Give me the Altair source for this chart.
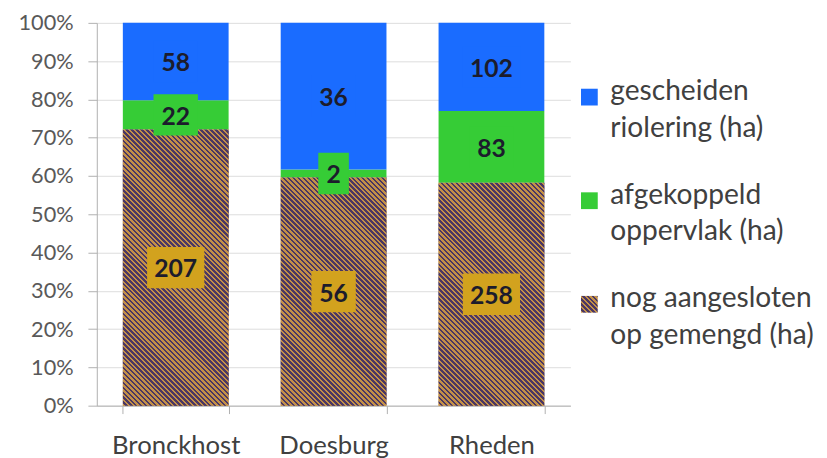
import altair as alt
import pandas as pd

# ---------------- data ----------------
cities = ["Bronckhost", "Doesburg", "Rheden"]
series_names = [
    "gescheiden|riolering (ha)",
    "afgekoppeld|oppervlak (ha)",
    "nog aangesloten|op gemengd (ha)",
]
gescheiden = [58, 36, 102]
afgekoppeld = [22, 2, 83]
gemengd = [207, 56, 258]
y_tick_values = [0.0, 0.1, 0.2, 0.3, 0.4, 0.5, 0.6, 0.7, 0.8, 0.9, 1.0]

# ---------------- styles ----------------
BLUE = "#1a6cff"
GREEN = "#36cc36"
TAN = "#c39048"
DARK = "#4b3762"
GOLD = "#d2a21e"
FONT = "Lato"
LABEL_DY = 3

PLOT_W, PLOT_H = 480, 388
PAD_IN, PAD_OUT = 0.33, 0.165
BAR_W = PLOT_W / len(cities) * (1 - PAD_IN)
BOX_W = {1: 31, 2: 45, 3: 58}
BOX_H = 42


def hatch_stops(span, period=5.0, frac=0.5):
    n = int(span / period) + 1
    stops = []
    for i in range(n):
        t0 = min(i * period / span, 1)
        t1 = min((i + frac) * period / span, 1)
        t2 = min((i + 1) * period / span, 1)
        stops += [(t0, TAN), (t1, TAN), (t1, DARK), (t2, DARK)]
    return stops


def hatch(w, h):
    """diagonal '\\' stripes as a hard-stop linear gradient (bounding-box units)"""
    k = (w + h) / (w * w + h * h)
    a, b = k * w, k * h
    stops = [{"offset": t, "color": c} for t, c in hatch_stops(w + h)]
    return {"gradient": "linear", "x1": 0, "y1": 1, "x2": a, "y2": 1 - b, "stops": stops}


def hatch_expr(w, h):
    k = (w + h) / (w * w + h * h)
    a, b = k * w, k * h
    stops = ", ".join(
        f"{{offset: {t:.4f}, color: '{c}'}}" for t, c in hatch_stops(w + h)
    )
    return (
        f"{{gradient: 'linear', x1: 0, y1: 1, x2: {a:.4f}, y2: {1 - b:.4f}, "
        f"stops: [{stops}]}}"
    )


rows = []
for i, city in enumerate(cities):
    stack = [
        (series_names[2], gemengd[i], GOLD),
        (series_names[1], afgekoppeld[i], GREEN),
        (series_names[0], gescheiden[i], BLUE),
    ]
    total = sum(v for _, v, _ in stack)
    cum = 0
    for name, v, box in stack:
        d = len(str(v))
        rows.append(
            {
                "city": city,
                "series": name,
                "value": v,
                "label": str(v),
                "start": cum / total,
                "end": (cum + v) / total,
                "mid": (cum + v / 2) / total,
                "boxcolor": box,
                "digits": str(d),
                "boxsize": BOX_W[d] ** 2,
            }
        )
        cum += v
df = pd.DataFrame(rows)

x_axis = alt.Axis(
    title=None,
    labelAngle=0,
    tickBand="extent",
    tickSize=8,
    labelPadding=19 - LABEL_DY,
    labelFontSize=26,
    labelFont=FONT,
    labelColor="#404040",
    domainColor="#b0b0b0",
    tickColor="#b0b0b0",
)
x_scale = alt.Scale(paddingInner=PAD_IN, paddingOuter=PAD_OUT)
y_axis = alt.Axis(
    title=None,
    format=".0%",
    values=y_tick_values,
    tickCount=11,
    labelOverlap=False,
    grid=True,
    gridColor="#dcdcdc",
    domainColor="#b0b0b0",
    tickColor="#b0b0b0",
    tickSize=9,
    labelPadding=15,
    labelOffset=-LABEL_DY,
    labelFontSize=22,
    labelFont=FONT,
    labelColor="#595959",
)
y_scale = alt.Scale(domain=[0, 1], nice=False)


def X():
    return alt.X("city:N", sort=cities, scale=x_scale, axis=x_axis)


def Y(field):
    return alt.Y(field, type="quantitative", scale=y_scale, axis=y_axis)


legend = alt.Legend(
    title=None,
    orient="none",
    legendX=485,
    legendY=61,
    symbolType="square",
    symbolSize=289,
    symbolStrokeWidth=0,
    labelFont=FONT,
    labelFontSize=28.5,
    labelColor="#404040",
    labelOffset=7,
    labelLimit=400,
    labelBaseline="alphabetic",
    rowPadding=39,
    labelExpr="split(datum.label, '|')",
)

base = (
    alt.Chart(df)
    .mark_bar()
    .encode(
        x=X(),
        y=Y("start"),
        y2="end:Q",
        color=alt.Color(
            "series:N",
            scale=alt.Scale(
                domain=series_names,
                range=[BLUE, GREEN, alt.ExprRef(hatch_expr(17, 17))],
            ),
            legend=legend,
        ),
    )
)

hatch_layers = []
for city in cities:
    sub = df[(df.city == city) & (df.series == series_names[2])]
    h = float(sub["end"].iloc[0] - sub["start"].iloc[0]) * PLOT_H
    hatch_layers.append(
        alt.Chart(sub)
        .mark_bar(fill=hatch(BAR_W, h), strokeWidth=0)
        .encode(x=X(), y=Y("start"), y2="end:Q")
    )

shape_paths = [
    f"M-1,{-BOX_H / BOX_W[d]:.4f}H1V{BOX_H / BOX_W[d]:.4f}H-1Z" for d in (1, 2, 3)
]
boxes = (
    alt.Chart(df)
    .mark_point(filled=True, opacity=1, strokeWidth=0)
    .encode(
        x=X(),
        y=Y("mid"),
        fill=alt.Fill("boxcolor:N", scale=None),
        shape=alt.Shape(
            "digits:N",
            scale=alt.Scale(domain=["1", "2", "3"], range=shape_paths),
            legend=None,
        ),
        size=alt.Size("boxsize:Q", scale=None),
    )
)

texts = (
    alt.Chart(df)
    .mark_text(font=FONT, fontSize=25, fontWeight="bold", color="#1c1c2c", dy=2)
    .encode(x=X(), y=Y("mid"), text="label:N")
)

chart = (
    alt.layer(base, *hatch_layers, boxes, texts)
    .properties(width=PLOT_W, height=PLOT_H, padding={"left": 10, "top": 1, "right": 5, "bottom": 0})
    .configure(
        background="white",
        style={"guide-label": {"lineHeight": 37, "dy": LABEL_DY}},
    )
    .configure_view(stroke=None)
)

chart.save("out.html", embed_options={"renderer": "svg", "actions": False})
